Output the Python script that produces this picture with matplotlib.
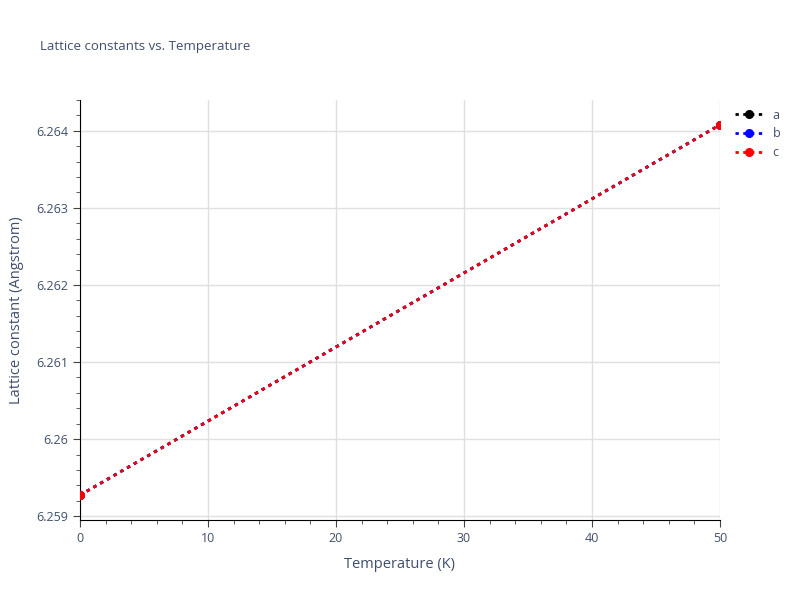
import matplotlib
matplotlib.use("Agg")
import matplotlib.pyplot as plt
from matplotlib.ticker import MultipleLocator

plt.rcParams["font.family"] = ["Open Sans", "DejaVu Sans"]

# Data
temperature = [0, 50]
lat_a = [6.259273, 6.264078]
lat_b = [6.259273, 6.264078]
lat_c = [6.259273, 6.264078]

series = [("a", lat_a, "black"), ("b", lat_b, "blue"), ("c", lat_c, "red")]
text_color = "#3f4f6b"

fig = plt.figure(figsize=(8, 6), dpi=100)
ax = fig.add_axes([0.1, 0.1333, 0.8, 0.7])

for name, vals, col in series:
    ax.plot(temperature, vals, linestyle=(0, (1.2, 1.6)), linewidth=2, color=col,
            marker="o", markersize=5.5, label=name, zorder=3)

ax.set_xlim(0, 50)
ax.set_ylim(6.25895, 6.2644)
ax.xaxis.set_major_locator(MultipleLocator(10))
ax.xaxis.set_minor_locator(MultipleLocator(2))
ax.yaxis.set_major_locator(MultipleLocator(0.001))
ax.yaxis.set_minor_locator(MultipleLocator(0.0002))
ax.yaxis.set_major_formatter(plt.FuncFormatter(lambda v, p: f"{v:.3f}".rstrip("0")))

ax.grid(True, which="major", color="#e0e0e0", linewidth=1)
ax.set_axisbelow(True)
for s in ["top", "right"]:
    ax.spines[s].set_visible(False)
for s in ["left", "bottom"]:
    ax.spines[s].set_color("black")
ax.tick_params(which="major", length=5, color="#444444", labelcolor=text_color, labelsize=9)
ax.tick_params(which="minor", length=3, color="#444444")

ax.set_xlabel("Temperature (K)", fontsize=10.5, color=text_color, labelpad=9)
ax.set_ylabel("Lattice constant (Angstrom)", fontsize=10.5, color=text_color, labelpad=9)
fig.text(0.05, 0.923, "Lattice constants vs. Temperature", fontsize=9.5, color=text_color, va="center")

leg = ax.legend(loc="upper left", bbox_to_anchor=(1.01, 1.0), frameon=False,
                fontsize=9, handlelength=2.2, labelcolor=text_color, borderaxespad=0.3,
                labelspacing=0.45)

fig.savefig("out.png", dpi=100)
